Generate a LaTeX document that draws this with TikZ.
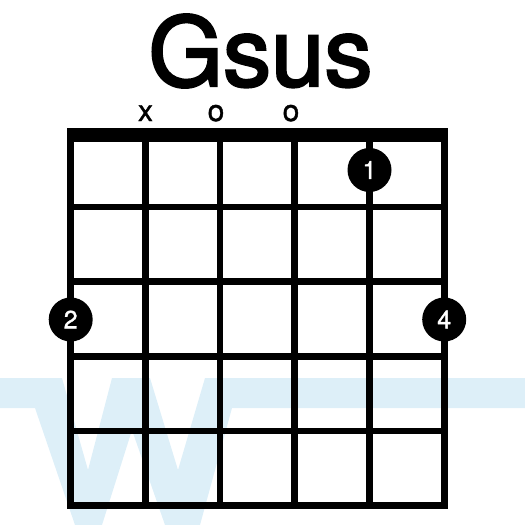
\documentclass[tikz,border=0pt]{standalone}
\usepackage{fontspec}
\setmainfont{TeX Gyre Heros}
\newfontfamily\chordfont[FakeBold=2.5]{TeX Gyre Heros}
\newfontfamily\markfont[FakeBold=1.2]{TeX Gyre Heros}
\definecolor{wm}{HTML}{DDEFF8}
\begin{document}
\begin{tikzpicture}[x=1pt,y=-1pt,
  gridline/.style={line width=6.7pt, line cap=rect},
  fingerdot/.style={circle, fill=black, minimum size=44pt, inner sep=0pt, text=white, font=\markfont\fontsize{25}{25}\selectfont},
  openmark/.style={anchor=base, inner sep=0pt, text depth=0pt, font=\markfont\fontsize{30}{30}\selectfont},
  title/.style={anchor=base, inner sep=0pt, text depth=0pt, font=\chordfont\fontsize{96}{96}\selectfont}]
\useasboundingbox (0,0) rectangle (525,525);
% watermark
\fill[wm] (0,378) -- (62,378) -- (88,470) -- (112,378) -- (150,378) -- (178,470) -- (205,378)
  -- (525,378) -- (525,408) -- (232,408) -- (200,525) -- (165,525) -- (132,430) -- (102,525)
  -- (75,525) -- (35,408) -- (0,408) -- cycle;
% title
\node[title] (t) at (260.5,86) {Gsus};
% nut
\fill (67.3,127.7) rectangle (447.6,141.7);
% strings
\foreach \i in {0,...,5} {
  \draw[gridline] ({70.7+74.7*\i},137) -- ({70.7+74.7*\i},505.7);
}
% frets
\foreach \j in {1,...,5} {
  \draw[gridline] (70.7,{132.3+74.7*\j}) -- (444.2,{132.3+74.7*\j});
}
% open / muted marks
\node[openmark] (mx) at (145.5,121) {x};
\node[openmark] (m3) at (216,121) {o};
\node[openmark] (m4) at (291,121) {o};
% finger dots
\node[fingerdot] (d1) at (369.5,170) {1};
\node[fingerdot] (d2) at (70.7,319.5) {2};
\node[fingerdot] (d4) at (444.2,319.5) {4};
\end{tikzpicture}
\end{document}
